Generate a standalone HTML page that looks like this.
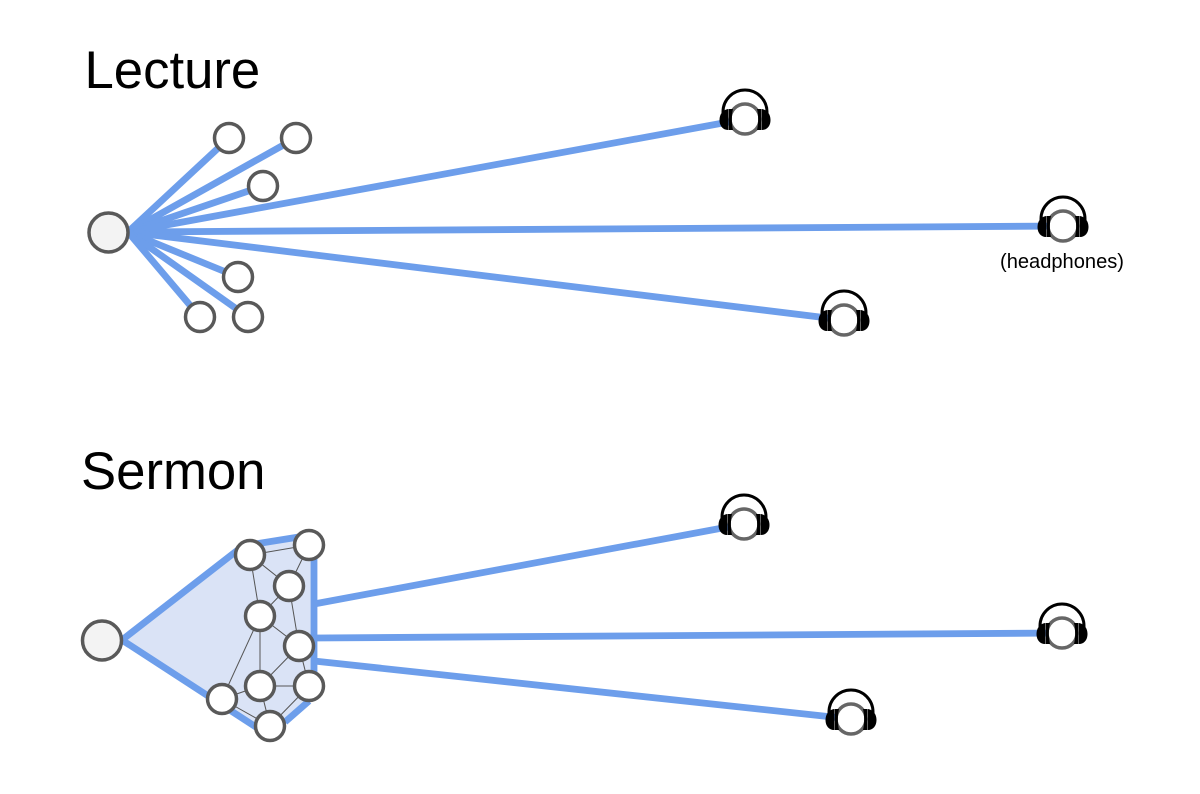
<!DOCTYPE html>
<html>
<head>
<meta charset="utf-8">
<style>
html,body{margin:0;padding:0;background:#fff;width:1200px;height:794px;overflow:hidden}
svg{display:block}
text{font-family:"Liberation Sans",sans-serif;fill:#000}
</style>
</head>
<body>
<svg width="1200" height="794" viewBox="0 0 1200 794" xmlns="http://www.w3.org/2000/svg">
<defs>
<g id="hp">
  <circle cx="0" cy="1" r="15" fill="#fff" stroke="#666" stroke-width="3.500"/>
  <path d="M-22 1 L-22 -6 A22 22 0 0 1 22 -6 L22 1" fill="none" stroke="#000" stroke-width="3"/>
  <path d="M-17 -9 C-22 -8 -25.500 -4 -25.500 2 C-25.500 8 -22 12 -17 12 Z" fill="#000"/>
  <path d="M17 -9 C22 -8 25.500 -4 25.500 2 C25.500 8 22 12 17 12 Z" fill="#000"/>
  <path d="M-16.600 -9 L-12 -9 C-13.500 -3 -13.500 6 -12 12 L-16.600 12 Z" fill="#000"/>
  <path d="M16.600 -9 L12 -9 C13.500 -3 13.500 6 12 12 L16.600 12 Z" fill="#000"/>
</g>
</defs>

<text x="84.500" y="88" font-size="52.700">Lecture</text>
<text x="81" y="489" font-size="52.700">Sermon</text>
<text x="1000" y="268" font-size="20" textLength="124" lengthAdjust="spacingAndGlyphs">(headphones)</text>

<!-- Lecture lines -->
<g stroke="#6d9eeb" stroke-width="6.800" fill="none">
  <line x1="128" y1="232" x2="229" y2="138"/>
  <line x1="128" y1="232" x2="296" y2="138"/>
  <line x1="128" y1="232" x2="263" y2="186"/>
  <line x1="128" y1="232" x2="745" y2="119"/>
  <line x1="128" y1="232" x2="1063" y2="226"/>
  <line x1="128" y1="232" x2="844" y2="320"/>
  <line x1="128" y1="232" x2="238" y2="277"/>
  <line x1="128" y1="232" x2="248" y2="317"/>
  <line x1="128" y1="232" x2="200" y2="317"/>
</g>
<g fill="#fff" stroke="#595959" stroke-width="3.500">
  <circle cx="229" cy="138" r="14.500"/>
  <circle cx="296" cy="138" r="14.500"/>
  <circle cx="263" cy="186" r="14.500"/>
  <circle cx="238" cy="277" r="14.500"/>
  <circle cx="200" cy="317" r="14.500"/>
  <circle cx="248" cy="317" r="14.500"/>
  <circle cx="108.500" cy="232.500" r="19.500" fill="#f3f3f3"/>
</g>

<!-- Sermon -->
<path d="M122 640 L243 546 L305 536 L314 560 L314 675 L307 702 L285 722 L262 731 Z" fill="#dae3f6"/>
<g stroke="#6d9eeb" stroke-width="6.800" fill="none">
  <path d="M122 640 L243 546 L305 536"/>
  <path d="M314 555 L314 672"/>
  <path d="M122 640 L262 731"/>
  <path d="M285 722 L309 701"/>
  <line x1="314" y1="604" x2="744" y2="524"/>
  <line x1="314" y1="638" x2="1062" y2="633"/>
  <line x1="314" y1="661" x2="851" y2="719"/>
</g>
<g stroke="#555" stroke-width="1" fill="none">
  <line x1="250" y1="555" x2="309" y2="545"/>
  <line x1="250" y1="555" x2="289" y2="586"/>
  <line x1="250" y1="555" x2="260" y2="616"/>
  <line x1="309" y1="545" x2="289" y2="586"/>
  <line x1="289" y1="586" x2="260" y2="616"/>
  <line x1="289" y1="586" x2="299" y2="646"/>
  <line x1="260" y1="616" x2="299" y2="646"/>
  <line x1="260" y1="616" x2="260" y2="686"/>
  <line x1="260" y1="616" x2="222" y2="699"/>
  <line x1="299" y1="646" x2="260" y2="686"/>
  <line x1="299" y1="646" x2="309" y2="686"/>
  <line x1="260" y1="686" x2="309" y2="686"/>
  <line x1="260" y1="686" x2="222" y2="699"/>
  <line x1="260" y1="686" x2="270" y2="726"/>
  <line x1="222" y1="699" x2="270" y2="726"/>
  <line x1="309" y1="686" x2="270" y2="726"/>
</g>
<g fill="#fff" stroke="#595959" stroke-width="3.500">
  <circle cx="250" cy="555" r="14.500"/>
  <circle cx="309" cy="545" r="14.500"/>
  <circle cx="289" cy="586" r="14.500"/>
  <circle cx="260" cy="616" r="14.500"/>
  <circle cx="299" cy="646" r="14.500"/>
  <circle cx="260" cy="686" r="14.500"/>
  <circle cx="309" cy="686" r="14.500"/>
  <circle cx="222" cy="699" r="14.500"/>
  <circle cx="270" cy="726" r="14.500"/>
  <circle cx="102" cy="640.500" r="19.500" fill="#f3f3f3"/>
</g>

<!-- Headphones -->
<use href="#hp" x="745" y="118"/>
<use href="#hp" x="1063" y="225"/>
<use href="#hp" x="844" y="319"/>
<use href="#hp" x="744" y="523"/>
<use href="#hp" x="1062" y="632"/>
<use href="#hp" x="851" y="718"/>
</svg>
</body>
</html>
